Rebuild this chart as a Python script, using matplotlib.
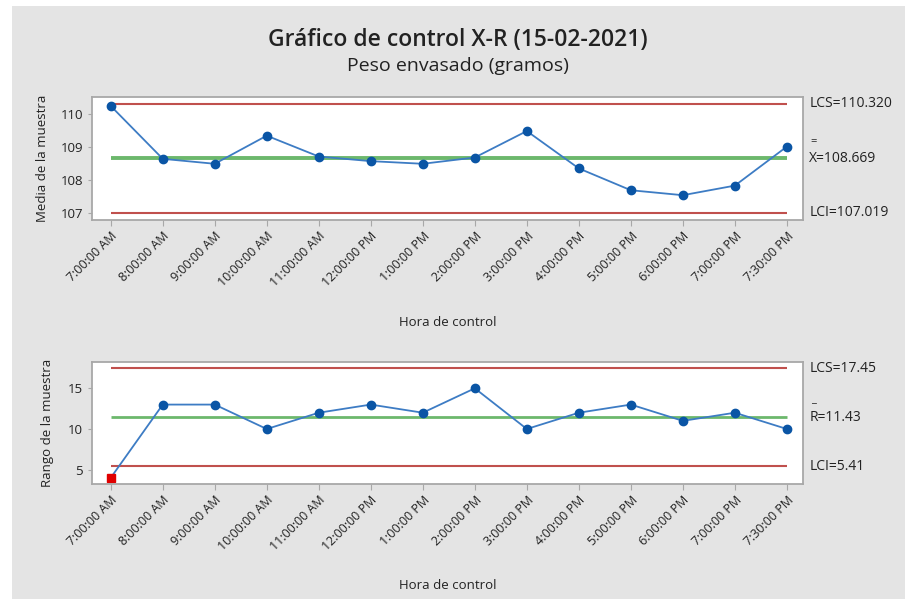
import numpy as np
import matplotlib.pyplot as plt
from matplotlib.patches import Rectangle

plt.rcParams['font.family'] = ['Open Sans', 'DejaVu Sans']

horas = ['7:00:00 AM', '8:00:00 AM', '9:00:00 AM', '10:00:00 AM', '11:00:00 AM',
         '12:00:00 PM', '1:00:00 PM', '2:00:00 PM', '3:00:00 PM', '4:00:00 PM',
         '5:00:00 PM', '6:00:00 PM', '7:00:00 PM', '7:30:00 PM']
medias = [110.25, 108.65, 108.50, 109.35, 108.72, 108.58, 108.50,
          108.69, 109.49, 108.36, 107.70, 107.55, 107.84, 109.02]
rangos = [4, 13, 13, 10, 12, 13, 12, 15, 10, 12, 13, 11, 12, 10]

x_lcs, x_centro, x_lci = 110.320, 108.669, 107.019
r_lcs, r_centro, r_lci = 17.45, 11.43, 5.41

rojo = '#c0504d'
verde = '#6cb86c'
azul_linea = '#3d7cc4'
azul_punto = '#0a55a5'
gris_fondo = '#e4e4e4'
gris_borde = '#a8a8a8'
negro = '#222222'

fig = plt.figure(figsize=(9.05, 5.99), dpi=100)
fig.patch.set_facecolor('white')
fig.patches.append(Rectangle((12 / 905, 0), 1, 1 - 6 / 599, transform=fig.transFigure,
                             facecolor=gris_fondo, edgecolor='none', zorder=-1))

fig.text(0.506, 1 - 40 / 599, 'Gráfico de control X-R (15-02-2021)', ha='center',
         va='center', fontsize=16.5, fontweight='semibold', color=negro)
fig.text(0.506, 1 - 66 / 599, 'Peso envasado (gramos)', ha='center', va='center',
         fontsize=14, color=negro)

ax1 = fig.add_axes([92 / 905, 1 - 220 / 599, 711 / 905, 123 / 599])
ax2 = fig.add_axes([92 / 905, 1 - 484 / 599, 711 / 905, 122.3 / 599])

xs = np.arange(len(horas))


def estilo(ax):
    ax.set_facecolor('white')
    for s in ax.spines.values():
        s.set_color(gris_borde)
        s.set_linewidth(1.3)
    ax.set_xlim(-0.36, 13.31)
    ax.set_xticks(xs)
    ax.set_xticklabels(horas, rotation=45, ha='right', rotation_mode='anchor',
                       fontsize=9, color=negro)
    ax.tick_params(axis='x', length=4, color=gris_borde, pad=3)
    ax.tick_params(axis='y', length=3, color=gris_borde, labelsize=9.5, labelcolor=negro)
    ax.set_xlabel('Hora de control', fontsize=9.5, color=negro, va='center')
    ax.xaxis.set_label_coords(0.5, -0.83)


estilo(ax1)
ax1.hlines([x_lcs, x_lci], xs[0], xs[-1], color=rojo, lw=1.5)
ax1.hlines(x_centro, xs[0], xs[-1], color=verde, lw=2.8)
ax1.plot(xs, medias, color=azul_linea, lw=1.3, marker='o', ms=6,
         markerfacecolor=azul_punto, markeredgecolor=azul_punto)
ax1.set_ylim(106.80, 110.52)
ax1.set_yticks([107, 108, 109, 110])
ax1.set_ylabel('Media de la muestra', fontsize=9.5, color=negro, labelpad=8)

tr1 = ax1.get_yaxis_transform()
ax1.text(1.009, x_lcs, 'LCS=110.320', transform=tr1, va='center', fontsize=10, color=negro)
ax1.text(1.009, x_centro, 'X=108.669', transform=tr1, va='center', fontsize=10, color=negro)
ax1.text(1.011, x_centro + 0.5, '=', transform=tr1, va='center', fontsize=8, color=negro)
ax1.text(1.009, x_lci, 'LCI=107.019', transform=tr1, va='center', fontsize=10, color=negro)

estilo(ax2)
ax2.hlines([r_lcs, r_lci], xs[0], xs[-1], color=rojo, lw=1.5)
ax2.hlines(r_centro, xs[0], xs[-1], color=verde, lw=2)
ax2.plot(xs, rangos, color=azul_linea, lw=1.3)
fuera = [i for i, r in enumerate(rangos) if r < r_lci or r > r_lcs]
dentro = [i for i in range(len(rangos)) if i not in fuera]
ax2.plot(xs[dentro], np.array(rangos)[dentro], 'o', ms=6, color=azul_punto)
ax2.plot(xs[fuera], np.array(rangos)[fuera], 's', ms=5.5, color='#e00000')
ax2.set_ylim(3.24, 18.27)
ax2.set_yticks([5, 10, 15])
ax2.set_ylabel('Rango de la muestra', fontsize=9.5, color=negro, labelpad=10)

tr2 = ax2.get_yaxis_transform()
ax2.text(1.009, r_lcs, 'LCS=17.45', transform=tr2, va='center', fontsize=10, color=negro)
ax2.text(1.009, r_centro, 'R=11.43', transform=tr2, va='center', fontsize=10, color=negro)
ax2.text(1.011, r_centro + 2.2, '_', transform=tr2, va='center', fontsize=8, color=negro)
ax2.text(1.009, r_lci, 'LCI=5.41', transform=tr2, va='center', fontsize=10, color=negro)

fig.savefig('out.png', dpi=100)
